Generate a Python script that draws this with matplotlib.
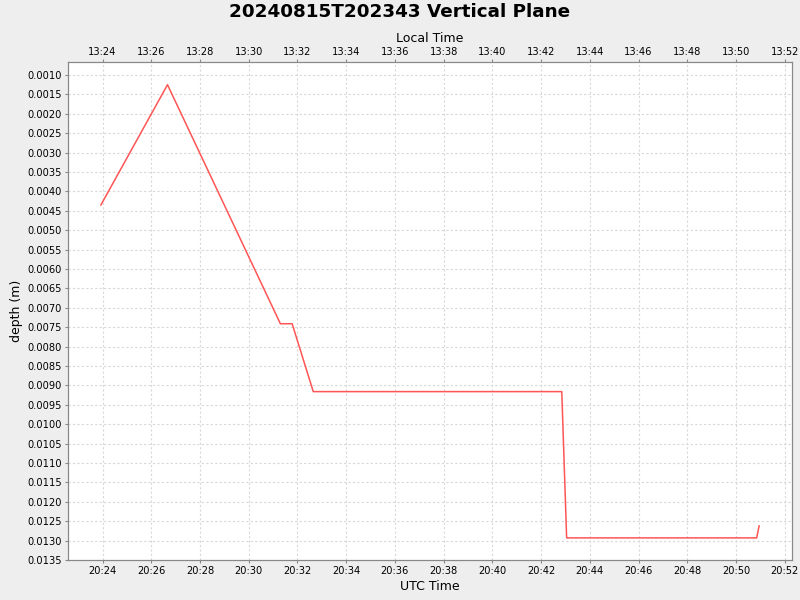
import datetime as dt
import matplotlib
matplotlib.use("Agg")
import matplotlib.pyplot as plt
import matplotlib.dates as mdates
from matplotlib.ticker import FuncFormatter, MultipleLocator

# readings of the profile (UTC time, depth in m)
utc_times = ["20:23:56", "20:26:40", "20:31:18", "20:31:47", "20:32:39",
             "20:42:51", "20:43:03", "20:50:51", "20:50:57"]
depths = [0.00435, 0.00125, 0.00741, 0.00741, 0.00916,
          0.00916, 0.01293, 0.01293, 0.01262]
utc_offset_hours = -7
title = "20240815T202343 Vertical Plane"

day = dt.date(2024, 8, 15)


def to_dt(s):
    return dt.datetime.combine(day, dt.datetime.strptime(s, "%H:%M:%S").time())


x = [to_dt(s) for s in utc_times]

fig = plt.figure(figsize=(8, 6), dpi=100, facecolor="#eeeeee")
ax = fig.add_axes([68 / 800, 40 / 600, 724 / 800, 498 / 600])
ax.set_facecolor("white")

ax.plot(x, depths, color="#ff5555", lw=1.1)

ax.set_xlim(to_dt("20:22:35"), to_dt("20:52:18"))
ax.set_ylim(0.0135, 0.000664)

ax.xaxis.set_major_locator(mdates.MinuteLocator(byminute=range(0, 60, 2)))
ax.xaxis.set_major_formatter(mdates.DateFormatter("%H:%M"))
ax.yaxis.set_major_locator(MultipleLocator(0.0005))
ax.yaxis.set_major_formatter(FuncFormatter(lambda v, p: f"{v:.4f}"))

grid_kw = dict(color="#d8d8d8", linestyle=(0, (2, 2)), linewidth=0.8)
ax.grid(True, **grid_kw)

tick_kw = dict(labelsize=7.1, colors="#888888", labelcolor="black",
               length=2, width=0.8, pad=2.5)
for side in ["left", "bottom", "top", "right"]:
    ax.spines[side].set_color("#888888")
ax.tick_params(**tick_kw)
ax.set_xlabel("UTC Time", fontsize=9, labelpad=3)
ax.set_ylabel("depth (m)", fontsize=9, labelpad=3)

# local time axis on top
top = ax.twiny()
top.set_xlim(ax.get_xlim())
top.xaxis.set_major_locator(mdates.MinuteLocator(byminute=range(0, 60, 2)))


def local_fmt(v, p):
    t = mdates.num2date(v) + dt.timedelta(hours=utc_offset_hours)
    return t.strftime("%H:%M")


top.xaxis.set_major_formatter(FuncFormatter(local_fmt))
top.tick_params(**tick_kw)
top.tick_params(axis="x", pad=1.5)
for side in ["left", "bottom", "top", "right"]:
    top.spines[side].set_color("#888888")
top.set_xlabel("Local Time", fontsize=9, labelpad=4)

fig.text(0.5, 1 - 12 / 600, title, fontsize=13.2, fontweight="bold",
         ha="center", va="center")

fig.savefig("out.png", dpi=100, facecolor=fig.get_facecolor())
